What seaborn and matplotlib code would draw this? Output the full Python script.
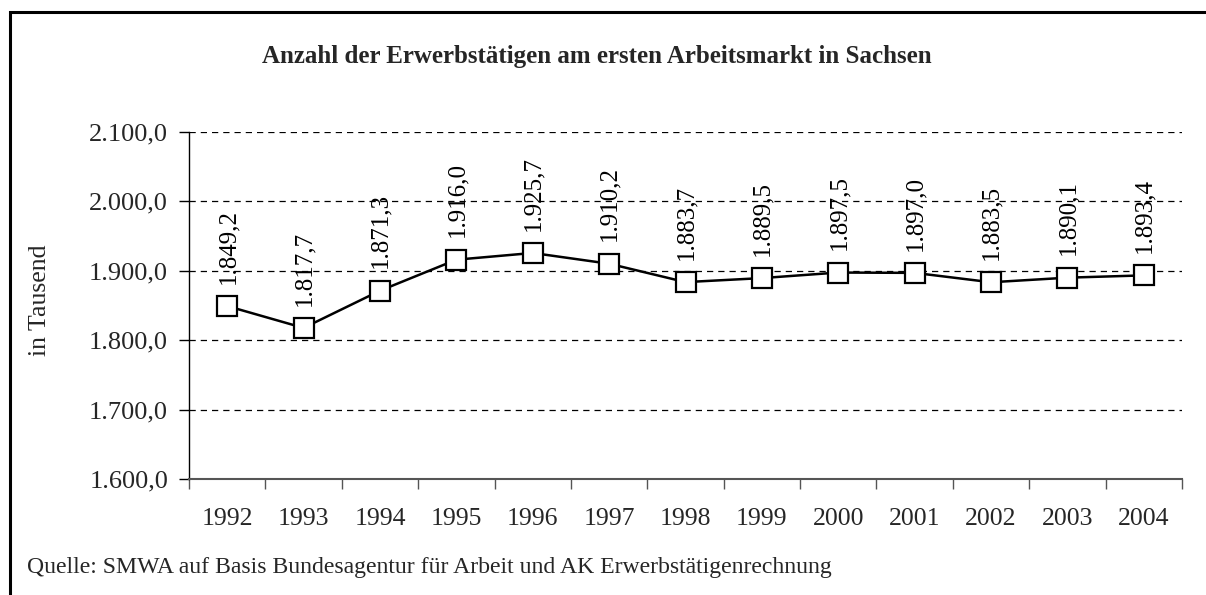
import matplotlib
matplotlib.use("Agg")
import matplotlib.pyplot as plt
from matplotlib.ticker import FuncFormatter, FixedLocator, NullFormatter
from matplotlib.patches import Rectangle
import seaborn as sns
import pandas as pd

# Erwerbstätige in Sachsen (in Tausend)
years = ["1992", "1993", "1994", "1995", "1996", "1997", "1998",
         "1999", "2000", "2001", "2002", "2003", "2004"]
values = [1849.2, 1817.7, 1871.3, 1916.0, 1925.7, 1910.2, 1883.7,
          1889.5, 1897.5, 1897.0, 1883.5, 1890.1, 1893.4]
y_ticks = [1600, 1700, 1800, 1900, 2000, 2100]

title = "Anzahl der Erwerbstätigen am ersten Arbeitsmarkt in Sachsen"
y_label = "in Tausend"
source = "Quelle: SMWA auf Basis Bundesagentur für Arbeit und AK Erwerbstätigenrechnung"

sns.set_style("white")
plt.rcParams["font.family"] = ["Liberation Serif", "DejaVu Serif"]


def de_fmt(v, decimals=1):
    s = f"{v:,.{decimals}f}"
    return s.replace(",", "X").replace(".", ",").replace("X", ".")


df = pd.DataFrame({"pos": range(len(years)), "value": values})

W, H = 1206, 595
fig = plt.figure(figsize=(W / 100, H / 100), dpi=100)
ax = fig.add_axes([189 / W, (H - 479) / H, (1182 - 189) / W, (479 - 132) / H])

sns.lineplot(data=df, x="pos", y="value", ax=ax, color="black", linewidth=1.8,
             marker="s", markersize=14, markerfacecolor="white",
             markeredgecolor="black", markeredgewidth=1.6, zorder=3)

ax.set_xlim(-0.5, len(years) - 0.5)
ax.set_ylim(y_ticks[0], y_ticks[-1])

# y axis
ax.set_yticks(y_ticks)
ax.yaxis.set_major_formatter(FuncFormatter(lambda v, p: de_fmt(v)))
ax.tick_params(axis="y", which="major", direction="out", length=7, width=1,
               color="black", labelsize=19, pad=8, left=True)
ax.yaxis.grid(True, linestyle=(0, (5, 4)), color="black", linewidth=0.9)
ax.set_axisbelow(True)

# x axis: labels at centres, ticks at category boundaries
ax.xaxis.set_major_locator(FixedLocator(list(range(len(years)))))
ax.set_xticklabels(years)
ax.xaxis.set_minor_locator(FixedLocator([i - 0.5 for i in range(len(years) + 1)]))
ax.xaxis.set_minor_formatter(NullFormatter())
ax.tick_params(axis="x", which="major", length=0, labelsize=18.5, pad=21)
ax.tick_params(axis="x", which="minor", direction="out", length=7, width=1,
               color="#555555", bottom=True)

ax.set_xlabel("")
ax.set_ylabel("")
for side in ("top", "right"):
    ax.spines[side].set_visible(False)
ax.spines["left"].set_color("black")
ax.spines["left"].set_linewidth(1.0)
ax.spines["bottom"].set_color("#555555")
ax.spines["bottom"].set_linewidth(1.5)

# value labels above points
for i, v in enumerate(values):
    ax.annotate(de_fmt(v), (i, v), xytext=(0.5, 16), textcoords="offset points",
                rotation=90, ha="center", va="bottom", fontsize=18, color="black")

fig.text(597 / W, (H - 56) / H, title, ha="center", va="center",
         fontsize=18, fontweight="bold")
fig.text(40 / W, (H - 300) / H, y_label, ha="center", va="center",
         rotation=90, fontsize=18.5)
fig.text(27 / W, (H - 568) / H, source, ha="left", va="center", fontsize=17.1)

# outer frame
fig.patches.append(Rectangle((9.5 / W, -0.1), 1.2, (H - 11.5) / H + 0.1,
                             transform=fig.transFigure, fill=False,
                             edgecolor="black", linewidth=2.2))

fig.savefig("out.png", dpi=100)
